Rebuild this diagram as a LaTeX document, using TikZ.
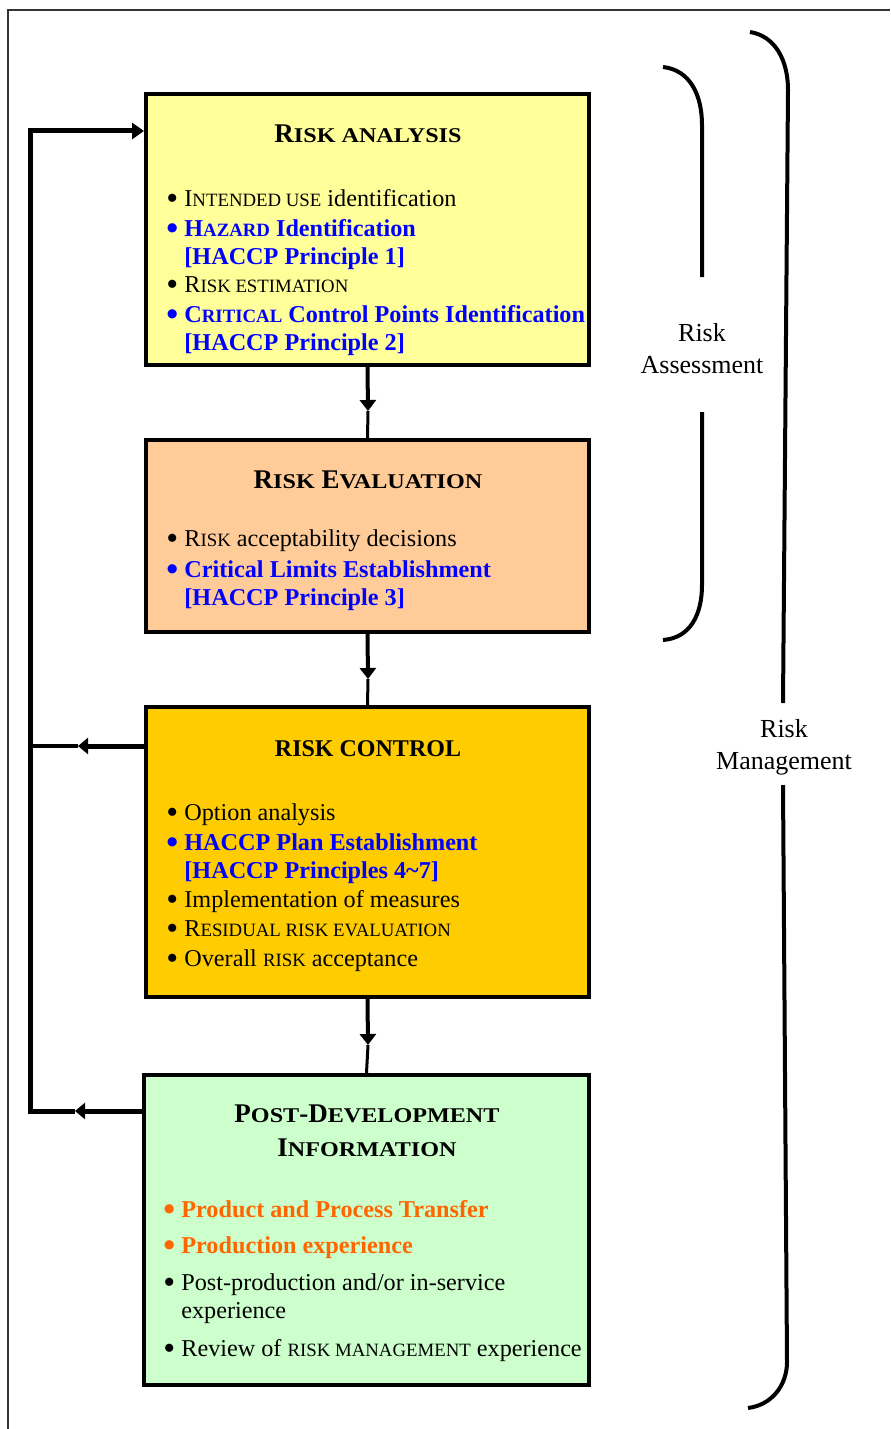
\documentclass[tikz,border=0pt]{standalone}
\usepackage{fontspec}
\usepackage{graphicx}
\setmainfont{Liberation Serif}
\newfontfamily\titscfont[FakeStretch=1.15]{Liberation Serif}
\usetikzlibrary{fit,arrows.meta}
\definecolor{ylw}{HTML}{FFFF99}
\definecolor{pch}{HTML}{FFCC99}
\definecolor{gld}{HTML}{FFCC00}
\definecolor{mnt}{HTML}{CCFFCC}
\definecolor{hblue}{HTML}{0000FF}
\definecolor{horange}{HTML}{FF6600}
\definecolor{frame}{HTML}{333333}
\newcommand\bsc[1]{{\fontsize{9.4pt}{9.4pt}\selectfont #1}}
\newcommand\tsc[1]{{\titscfont\bfseries\fontsize{10.5pt}{10.5pt}\selectfont #1}}
\newcommand\itm[1]{\makebox[9pt][l]{\smash{\raisebox{-0.14em}{\scalebox{1.4}{\textbullet}}}}#1}
\tikzset{
  box/.style={draw=black, line width=2pt, inner sep=0pt},
  itemtext/.style={anchor=base west, inner sep=0pt, font=\fontsize{12.1pt}{14pt}\selectfont},
  bluetext/.style={itemtext, text=hblue, font=\fontsize{12.1pt}{14pt}\selectfont\bfseries},
  orangetext/.style={itemtext, text=horange, font=\fontsize{12.1pt}{14pt}\selectfont\bfseries},
  titletext/.style={anchor=base, inner sep=0pt, font=\fontsize{13.5pt}{14pt}\selectfont\bfseries},
  ctitletext/.style={anchor=base, inner sep=0pt, font=\fontsize{12pt}{14pt}\selectfont\bfseries},
  sidelabel/.style={align=center, inner sep=0pt, font=\fontsize{13pt}{16pt}\selectfont},
  thickflow/.style={line width=2pt, -{Triangle[length=5.5pt,width=8pt]}},
  thinflow/.style={line width=1.5pt},
  loopflow/.style={line width=2.5pt},
  brace/.style={line width=2pt, line cap=butt}
}
\begin{document}
\begin{tikzpicture}[x=0.5pt, y=-0.5pt]
\useasboundingbox (0,0) rectangle (890,1429);
% outer frame
\draw[frame, line width=1pt] (8,1429) -- (8,10) -- (890,10);

% boxes
\node[box, fill=ylw, fit={(146,94) (589,365)}] (ra) {};
\node[box, fill=pch, fit={(146,440) (589,632)}] (re) {};
\node[box, fill=gld, fit={(146,707) (589,997)}] (rc) {};
\node[box, fill=mnt, fit={(144,1075) (589,1385)}] (pd) {};

% box 1 text
\node[titletext] (t1) at (368,142) {R\tsc{ISK ANALYSIS}};
\node[itemtext] (i11) at (166,206) {\itm{I\bsc{NTENDED USE} identification}};
\node[bluetext] (i12) at (166,236) {\itm{H\bsc{AZARD} Identification}};
\node[bluetext] (i13) at (184,264) {[HACCP Principle 1]};
\node[itemtext] (i14) at (166,292) {\itm{R\bsc{ISK ESTIMATION}}};
\node[bluetext] (i15) at (166,322) {\itm{C\bsc{RITICAL} Control Points Identification}};
\node[bluetext] (i16) at (184,350) {[HACCP Principle 2]};

% box 2 text
\node[titletext] (t2) at (368,488) {R\tsc{ISK} E\tsc{VALUATION}};
\node[itemtext] (i21) at (166,546) {\itm{R\bsc{ISK} acceptability decisions}};
\node[bluetext] (i22) at (166,577) {\itm{Critical Limits Establishment}};
\node[bluetext] (i23) at (184,605) {[HACCP Principle 3]};

% box 3 text
\node[ctitletext] (t3) at (368,756) {RISK CONTROL};
\node[itemtext] (i31) at (166,820) {\itm{Option analysis}};
\node[bluetext] (i32) at (166,850) {\itm{HACCP Plan Establishment}};
\node[bluetext] (i33) at (184,878) {[HACCP Principles 4\textasciitilde 7]};
\node[itemtext] (i34) at (166,907) {\itm{Implementation of measures}};
\node[itemtext] (i35) at (166,936) {\itm{R\bsc{ESIDUAL RISK EVALUATION}}};
\node[itemtext] (i36) at (166,966) {\itm{Overall \bsc{RISK} acceptance}};

% box 4 text
\node[titletext] (t4a) at (367,1122) {P\tsc{OST}-D\tsc{EVELOPMENT}};
\node[titletext] (t4b) at (367,1156) {I\tsc{NFORMATION}};
\node[orangetext] (i41) at (163,1217) {\itm{Product and Process Transfer}};
\node[orangetext] (i42) at (163,1253) {\itm{Production experience}};
\node[itemtext] (i43) at (163,1290) {\itm{Post-production and/or in-service}};
\node[itemtext] (i44) at (181,1318) {experience};
\node[itemtext] (i45) at (163,1356) {\itm{Review of \bsc{RISK MANAGEMENT} experience}};

% vertical flow arrows
\coordinate (m1) at (368,411);
\coordinate (m2) at (368,679);
\coordinate (m3) at (368,1045);
\draw[thickflow] (ra.south) -- (m1);
\draw[thinflow] (m1) -- (re.north);
\draw[thickflow] (re.south) -- (m2);
\draw[thinflow] (m2) -- (rc.north);
\draw[thickflow] (rc.south) -- (m3);
\draw[thinflow] (m3) -- (pd.north);

% feedback loop
\coordinate (a3) at (78,746);
\coordinate (a4) at (75,1111);
\coordinate (lm) at (30,746);
\coordinate (lb) at (30,1111);
\coordinate (lt) at (30,131);
\draw[loopflow, -{Triangle[length=5pt,width=8pt]}] (a3 -| rc.west) -- (a3);
\draw[loopflow, -{Triangle[length=5pt,width=8pt]}] (a4 -| pd.west) -- (a4);
\draw[line width=2pt] (a3) -- (lm);
\draw[loopflow, line join=miter, -{Triangle[length=6pt,width=8pt]}] (a4) -- (lb) -- (lt) -- (lt -| ra.west);

% braces
\draw[brace] (663,67) .. controls (690,70) and (702,95) .. (702,125) -- (702,277);
\draw[brace] (702,412) -- (702,585) .. controls (702,615) and (690,638) .. (663,640);
\draw[brace] (750,32) .. controls (775,36) and (788,60) .. (788,90) -- (783,703);
\draw[brace] (783,785) -- (787,1362) .. controls (787,1385) and (772,1405) .. (748,1408);

% side labels
\node[sidelabel] (ras) at (702,349) {Risk\\Assessment};
\node[sidelabel] (rma) at (784,747) {Risk\\Management};
\end{tikzpicture}
\end{document}
